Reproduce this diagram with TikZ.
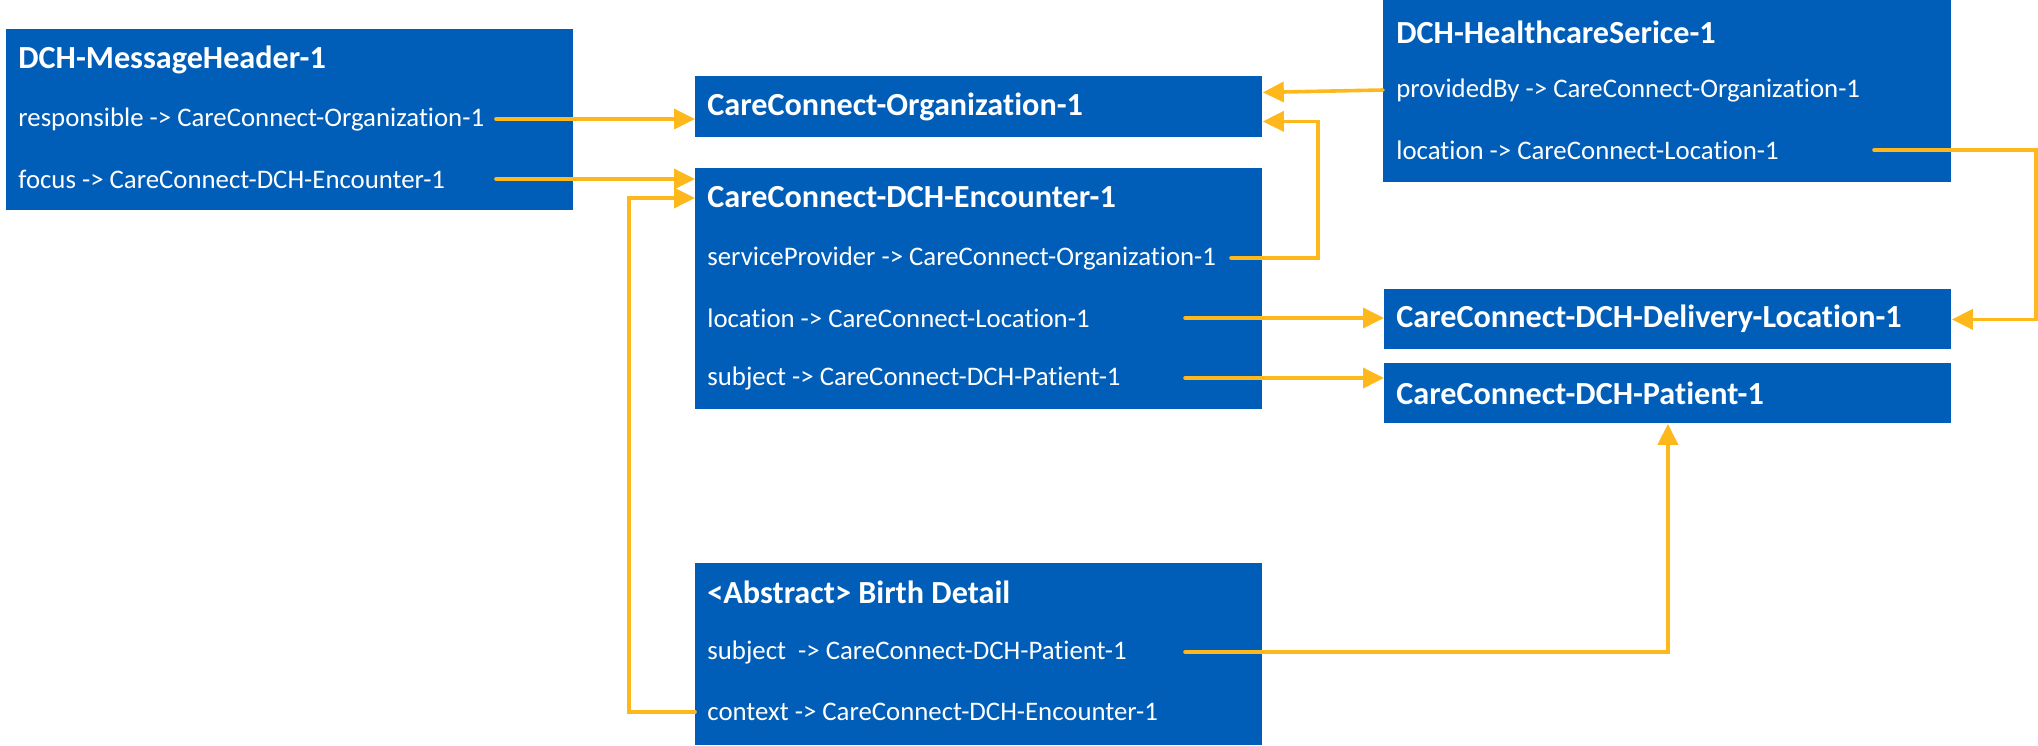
\documentclass[tikz,border=0pt]{standalone}
\usepackage{fontspec}
\setmainfont{Carlito}[Ligatures=NoCommon]
\usetikzlibrary{arrows.meta,positioning,calc}

\definecolor{nhsblue}{HTML}{005EB8}
\definecolor{nhsyellow}{HTML}{FFB81C}

\begin{document}
\begin{tikzpicture}[
    x=0.5pt, y=-0.5pt,
    resource/.style={rectangle, fill=nhsblue, draw=none, inner sep=0pt, anchor=north west, minimum width=283.5pt},
    title/.style={anchor=west, inner sep=0pt, text=white, font=\fontsize{16.1}{19}\selectfont\bfseries},
    row/.style={anchor=west, inner sep=0pt, text=white, font=\fontsize{13.4}{16}\selectfont},
    reference/.style={draw=nhsyellow, line width=1.8pt, line cap=round, -{Triangle[length=10.5pt,width=10pt]}}
]
\useasboundingbox (0,0) rectangle (2038,745);

% Resources
\node[resource, minimum height=90.5pt] (header) at (6,29) {};
\node[resource, minimum height=30.5pt] (organization) at (695,76) {};
\node[resource, minimum height=120.5pt] (encounter) at (695,168) {};
\node[resource, minimum height=91pt, minimum width=284pt] (service) at (1383,0) {};
\node[resource, minimum height=30pt] (delivery) at (1384,289) {};
\node[resource, minimum height=30pt] (patient) at (1384,363) {};
\node[resource, minimum height=91pt] (birth) at (695,563) {};

% Titles
\node[title] (headertitle) at (18,60) {DCH-MessageHeader-1};
\node[title] (orgtitle) at (707,107) {CareConnect-Organization-1};
\node[title] (enctitle) at (707,197) {CareConnect-DCH-Encounter-1};
\node[title] (servicetitle) at (1396,32) {DCH-HealthcareSerice-1};
\node[title] (deliverytitle) at (1396,319) {CareConnect-DCH-Delivery-Location-1};
\node[title] (patienttitle) at (1396,393) {CareConnect-DCH-Patient-1};
\node[title] (birthtitle) at (707,592) {<Abstract> Birth Detail};

% Elements
\node[row] (responsible) at (18,119) {responsible -> CareConnect-Organization-1};
\node[row] (focus) at (18,179) {focus -> CareConnect-DCH-Encounter-1};
\node[row] (provider) at (707,258) {serviceProvider -> CareConnect-Organization-1};
\node[row] (enclocation) at (707,318) {location -> CareConnect-Location-1};
\node[row] (encsubject) at (707,378) {subject -> CareConnect-DCH-Patient-1};
\node[row] (providedby) at (1396,90) {providedBy -> CareConnect-Organization-1};
\node[row] (servlocation) at (1396,150) {location -> CareConnect-Location-1};
\node[row] (birthsubject) at (707,652) {subject\ \ -> CareConnect-DCH-Patient-1};
\node[row] (context) at (707,712) {context -> CareConnect-DCH-Encounter-1};

% References
\draw[reference] ([xshift=239pt]responsible.west) -- (responsible -| organization.west);
\draw[reference] ([xshift=239pt]focus.west) -- (focus -| encounter.west);
\draw[reference] (providedby -| service.west) -- ([yshift=7.25pt]organization.east);
\draw[reference] ([xshift=262pt]provider.west) -- ++(87,0) |- ([yshift=-7.25pt]organization.east);
\draw[reference] ([xshift=239pt]enclocation.west) -- (enclocation -| delivery.west);
\draw[reference] ([xshift=239pt]encsubject.west) -- (encsubject -| patient.west);
\draw[reference] ([xshift=239pt]servlocation.west) -- ++(162,0) |- (delivery.east);
\draw[reference] ([xshift=239pt]birthsubject.west) -| (patient.south);
\draw[reference] (context -| birth.west) -- ++(-66,0) |- ([yshift=-15pt]encounter.north west);

\end{tikzpicture}
\end{document}
